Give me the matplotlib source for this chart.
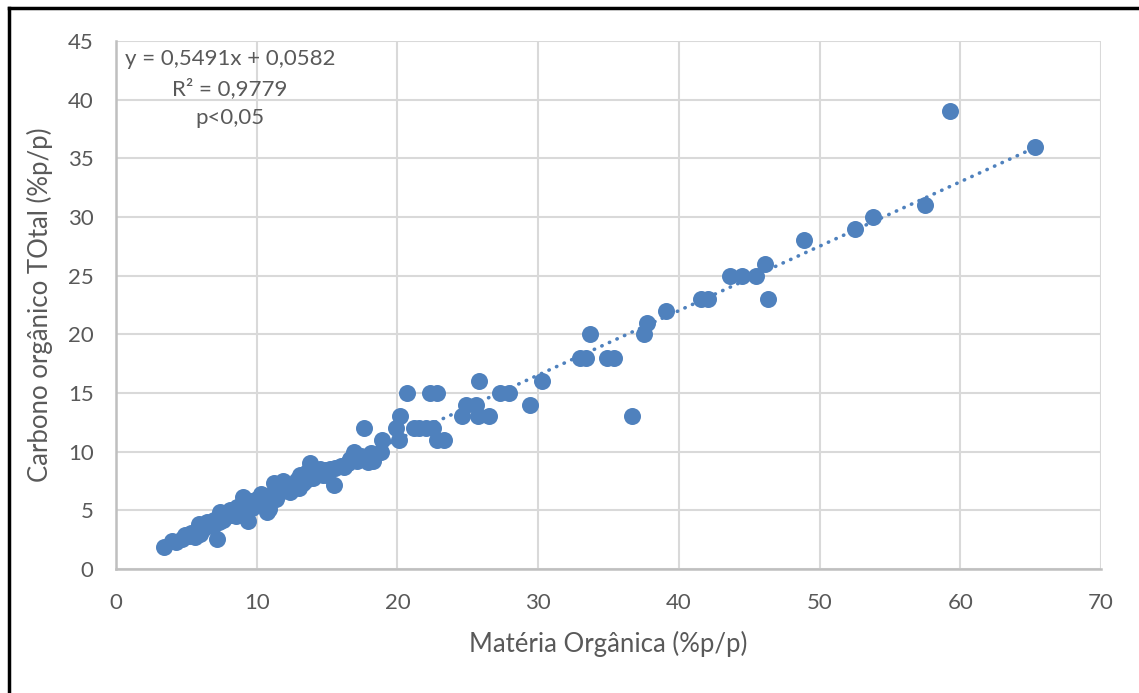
import numpy as np
import matplotlib.pyplot as plt
from matplotlib.lines import Line2D

plt.rcParams['font.family'] = ['Lato', 'DejaVu Sans']

# Matéria orgânica (%p/p) vs carbono orgânico total (%p/p)
materia_organica = [
    3.4, 4.0, 4.3, 4.7, 4.9, 5.2, 5.3, 5.6, 5.8, 5.9,
    6.2, 6.3, 6.5, 6.7, 6.9, 7.2, 7.3, 7.4, 7.6, 7.9,
    8.1, 8.3, 8.5, 8.8, 9.0, 9.2, 9.4, 9.5, 9.7, 10.0,
    10.2, 10.5, 10.7, 10.9, 11.0, 11.2, 11.4, 11.6, 11.9, 12.1,
    12.4, 12.7, 13.0, 13.1, 13.3, 13.5, 13.8, 14.0, 14.3, 14.7,
    14.9, 15.2, 15.5, 15.6, 16.0, 16.2, 16.5, 16.9, 17.1, 17.6,
    17.9, 18.1, 18.3, 18.8, 18.9, 19.9, 20.1, 20.2, 20.7, 21.2,
    21.5, 22.0, 22.5, 22.3, 22.8, 22.8, 23.3, 24.6, 24.9, 25.6,
    25.7, 25.8, 26.5, 27.3, 27.9, 29.4, 30.3, 33.0, 33.4, 33.7,
    34.9, 35.4, 36.7, 37.5, 37.7, 39.1, 41.6, 42.1, 43.6, 44.5,
    45.5, 46.1, 46.3, 48.9, 52.5, 53.8, 57.5, 59.3, 65.3,
    6.0, 7.0, 8.6, 9.9, 10.3, 11.8, 12.9, 13.6, 14.5, 15.0,
    16.6, 17.4,
]
carbono_total = [
    1.9, 2.4, 2.3, 2.6, 2.9, 2.8, 3.1, 2.7, 3.3, 3.8,
    3.4, 3.6, 4.0, 3.8, 3.7, 2.6, 4.0, 4.9, 4.2, 4.5,
    5.0, 4.6, 4.5, 5.1, 6.1, 5.4, 4.1, 5.8, 5.2, 6.0,
    5.6, 6.2, 4.9, 5.1, 6.3, 7.3, 6.0, 6.5, 7.5, 6.9,
    6.6, 7.0, 6.9, 8.0, 7.3, 7.6, 9.0, 7.8, 8.2, 8.0,
    8.4, 8.5, 7.2, 8.6, 8.8, 8.7, 9.0, 10.0, 9.2, 12.0,
    9.1, 9.9, 9.2, 10.0, 11.0, 12.0, 11.0, 13.0, 15.0, 12.0,
    12.0, 12.0, 12.0, 15.0, 15.0, 11.0, 11.0, 13.0, 14.0, 14.0,
    13.0, 16.0, 13.0, 15.0, 15.0, 14.0, 16.0, 18.0, 18.0, 20.0,
    18.0, 18.0, 13.0, 20.0, 21.0, 22.0, 23.0, 23.0, 25.0, 25.0,
    25.0, 26.0, 23.0, 28.0, 29.0, 30.0, 31.0, 39.0, 36.0,
    3.0, 4.2, 5.3, 5.5, 6.4, 6.8, 7.6, 8.3, 8.5, 8.0,
    9.4, 9.6,
]

# linear trend as reported on the chart
slope = 0.5491
intercept = 0.0582
r_squared = 0.9779

blue = '#4f81bd'
text_gray = '#595959'

fig = plt.figure(figsize=(11.39, 6.93), dpi=100)
ax = fig.add_axes([0.1018, 0.1789, 0.8649, 0.7619])

x = np.array(materia_organica)
y = np.array(carbono_total)

ax.scatter(x, y, s=150, color=blue, zorder=3, linewidths=0)

xt = np.array([x.min(), x.max()])
ax.plot(xt, slope * xt + intercept, color=blue, linestyle=(0, (0.1, 2.2)),
        linewidth=2.6, dash_capstyle='round', zorder=4)

ax.set_xlim(0, 70)
ax.set_ylim(0, 45)
ax.set_xticks(np.arange(0, 71, 10))
ax.set_yticks(np.arange(0, 46, 5))
ax.grid(True, color='#d9d9d9', linewidth=1.5, zorder=0)
ax.set_axisbelow(True)

for side in ['top', 'right']:
    ax.spines[side].set_visible(False)
for side in ['left', 'bottom']:
    ax.spines[side].set_color('#bfbfbf')
    ax.spines[side].set_linewidth(1.8)

ax.tick_params(length=0, labelsize=16, labelcolor=text_gray)
ax.tick_params(axis='x', pad=17)
ax.tick_params(axis='y', pad=16)
ax.set_xlabel('Matéria Orgânica (%p/p)', fontsize=18.5, color=text_gray, labelpad=13)
ax.set_ylabel('Carbono orgânico TOtal (%p/p)', fontsize=18.5, color=text_gray, labelpad=11)

eq_text = (f'y = {slope:.4f}x + {intercept:.4f}\nR² = {r_squared:.4f}\np<0,05').replace('.', ',')
ax.text(8.1, 44.3, eq_text, fontsize=16, color=text_gray, ha='center', va='top',
        linespacing=1.55, multialignment='center', zorder=5)

# black frame along the left and top edges of the figure
fig.add_artist(Line2D([0.0075, 0.0075], [0.0, 0.9885], color='black', linewidth=2.5,
                      transform=fig.transFigure))
fig.add_artist(Line2D([0.0075, 1.0], [0.9885, 0.9885], color='black', linewidth=2.5,
                      transform=fig.transFigure))

fig.savefig('out.png', dpi=100)
